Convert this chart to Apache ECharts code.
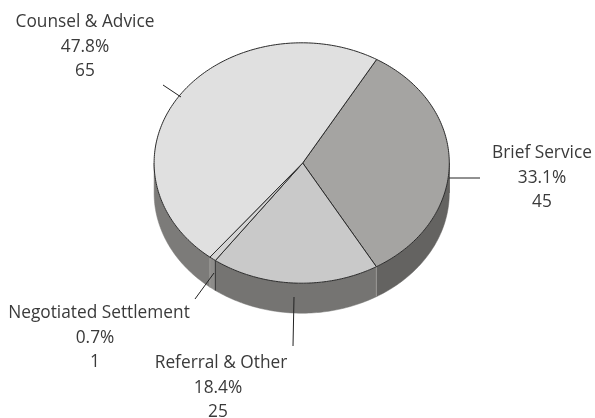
<!DOCTYPE html>
<html>
<head>
<meta charset="utf-8">
<style>
  html, body { margin: 0; padding: 0; background: #fff; }
  #chart { width: 595px; height: 418px; }
</style>
<script src="https://cdn.jsdelivr.net/npm/echarts@6/dist/echarts.min.js"></script>
</head>
<body>
<div id="chart"></div>
<script>
// Slices, clockwise from the top right
const categories = ["Brief Service", "Referral & Other", "Negotiated Settlement", "Counsel & Advice"];
const values = [45, 25, 1, 65];

// Styles per slice
const topColors = ["#a5a4a2", "#c9c9c9", "#d4d4d4", "#e0e0e0"];
const wallColors = ["#646361", "#757472", "#8d8c8a", "#7c7b79"];
const wallEdgeColors = ["#646361", "#9a9997", "#333333", "#a09f9d"];

// Hand placed labels: name x, value x, first line y. Same order as categories
const labelPos = [[542, 542, 153], [221, 218, 363], [99, 95, 313], [85, 85, 22]];
const labelLine = 24.7;
const leaderLines = [
  [[449, 178], [480, 178]],
  [[294, 297], [293, 346]],
  [[214, 273], [195, 299]],
  [[181, 97], [163, 85]]
];

// Fake 3D pie geometry
const cx = 301.7;
const cy = 163;
const rx = 147.6;
const ry = 120.2;
const depth = 30;
const startDeg = 30.5;
const total = values.reduce((a, b) => a + b, 0);

function sliceRange(i) {
  const before = values.slice(0, i).reduce((a, b) => a + b, 0);
  return [startDeg + (before / total) * 360, startDeg + ((before + values[i]) / total) * 360];
}

function rim(deg, dy) {
  const t = (deg * Math.PI) / 180;
  return [cx + rx * Math.sin(t), cy - ry * Math.cos(t) + (dy || 0)];
}

function arcPoints(a, b, dy) {
  const pts = [];
  const steps = Math.max(2, Math.ceil(Math.abs(b - a)));
  for (let k = 0; k <= steps; k++) pts.push(rim(a + ((b - a) * k) / steps, dy));
  return pts;
}

// Visible part of the wall is the front half, 90 to 270 degrees
function renderWall(params, api) {
  const i = params.dataIndex;
  const range = sliceRange(i);
  const a = Math.max(range[0], 90);
  const b = Math.min(range[1], 270);
  if (b <= a) return { type: "group", children: [] };
  const pts = arcPoints(a, b, 0).concat(arcPoints(b, a, depth));
  const edge = rim(a);
  return {
    type: "group",
    children: [
      { type: "polygon", shape: { points: pts }, style: { fill: wallColors[i], stroke: wallColors[i], lineWidth: 0.5 } },
      {
        type: "line",
        shape: { x1: edge[0], y1: edge[1], x2: edge[0], y2: edge[1] + depth },
        style: { stroke: wallEdgeColors[i], lineWidth: 1 }
      }
    ]
  };
}

function renderTop(params, api) {
  const i = params.dataIndex;
  const range = sliceRange(i);
  const pts = [[cx + 1, cy]].concat(arcPoints(range[0], range[1], 0));
  return {
    type: "polygon",
    shape: { points: pts },
    style: { fill: topColors[i], stroke: "#2b2b2b", lineWidth: 1, lineJoin: "round" }
  };
}

function labelText(str, x, y) {
  return {
    type: "text",
    x: x,
    y: y,
    style: {
      text: str,
      fill: "#3a3a3a",
      font: '17.3px "Open Sans", sans-serif',
      align: "center",
      verticalAlign: "middle"
    }
  };
}

function renderLabel(params, api) {
  const i = params.dataIndex;
  const line = leaderLines[i];
  const pos = labelPos[i];
  const pct = ((api.value(0) / total) * 100).toFixed(1) + "%";
  return {
    type: "group",
    children: [
      {
        type: "line",
        shape: { x1: line[0][0], y1: line[0][1], x2: line[1][0], y2: line[1][1] },
        style: { stroke: "#222", lineWidth: 1 }
      },
      labelText(categories[i], pos[0], pos[2]),
      labelText(pct, pos[1], pos[2] + labelLine),
      labelText(String(api.value(0)), pos[1], pos[2] + labelLine * 2)
    ]
  };
}

const myChart = echarts.init(document.getElementById("chart"), null, { renderer: "canvas" });
const seriesData = values.map((v, i) => ({ name: categories[i], value: [v] }));

myChart.setOption({
  animation: false,
  backgroundColor: "#ffffff",
  series: [
    { type: "custom", coordinateSystem: "none", renderItem: renderWall, data: seriesData, z: 1 },
    { type: "custom", coordinateSystem: "none", renderItem: renderTop, data: seriesData, z: 2 },
    { type: "custom", coordinateSystem: "none", renderItem: renderLabel, data: seriesData, z: 3 }
  ]
});
</script>
</body>
</html>
